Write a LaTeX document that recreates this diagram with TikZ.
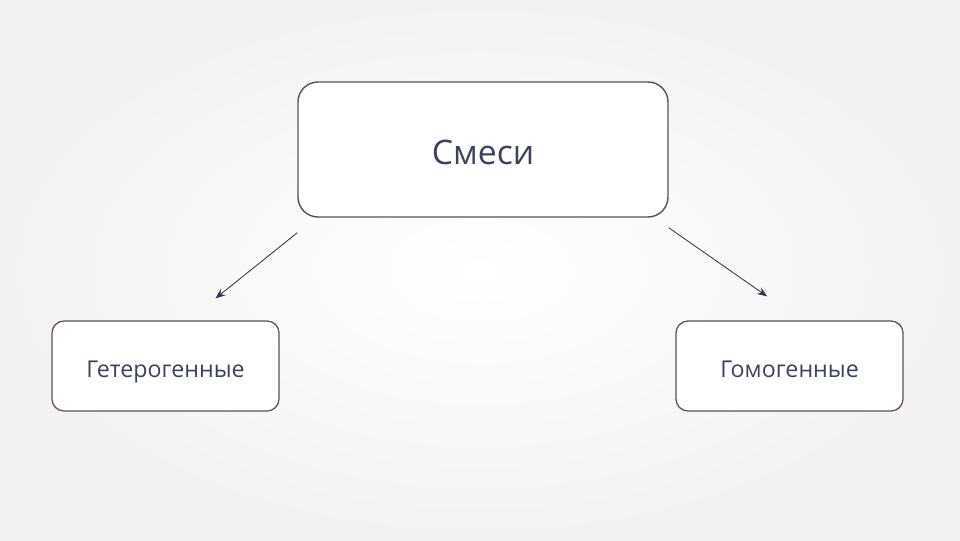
\documentclass[tikz,border=0pt]{standalone}
\usepackage{fontspec}
\setmainfont{Open Sans}
\usetikzlibrary{calc, arrows.meta}

\definecolor{bordercol}{HTML}{5E4F57}
\definecolor{textcol}{HTML}{3D4458}
\definecolor{arrowcol}{HTML}{2F364A}
\definecolor{bgedge}{HTML}{F3F2F1}

\begin{document}
\begin{tikzpicture}[
    mainbox/.style={rectangle, draw=bordercol, line width=1pt, fill=white, minimum width=9.25cm, minimum height=3.375cm, text centered, font=\fontsize{24}{28}\selectfont, text=textcol, text height=24pt, text depth=3pt, rounded corners=0.5cm},
    subbox/.style={rectangle, draw=bordercol, line width=0.9pt, fill=white, minimum width=5.675cm, minimum height=2.25cm, text centered, font=\fontsize{16.5}{19}\selectfont, text=textcol, text height=18.5pt, text depth=2.5pt, rounded corners=0.3cm},
    arrow/.style={-{Stealth[length=7pt, width=5.5pt]}, line width=0.6pt, draw=arrowcol}
]

% Background
\useasboundingbox (0,0) rectangle (24,13.5);
\shade[inner color=white, outer color=bgedge] (0,0) rectangle (24,13.5);

% Mixtures
\node[mainbox] (smesi) at (12.075, 9.7625) {Смеси};

% Kinds of mixtures
\node[subbox] (hetero) at (4.1375, 4.35) {Гетерогенные};
\node[subbox] (homo) at (19.7375, 4.35) {Гомогенные};

% Arrows to kinds
\coordinate (hetend) at ($(hetero.north)+(1.25,0.55)$);
\coordinate (homend) at ($(homo.north)+(-0.56,0.6)$);
\draw[arrow] ($(smesi.south west)+(0,-0.375)$) -- (hetend);
\draw[arrow] ($(smesi.south east)+(0,-0.25)$) -- (homend);

\end{tikzpicture}
\end{document}
